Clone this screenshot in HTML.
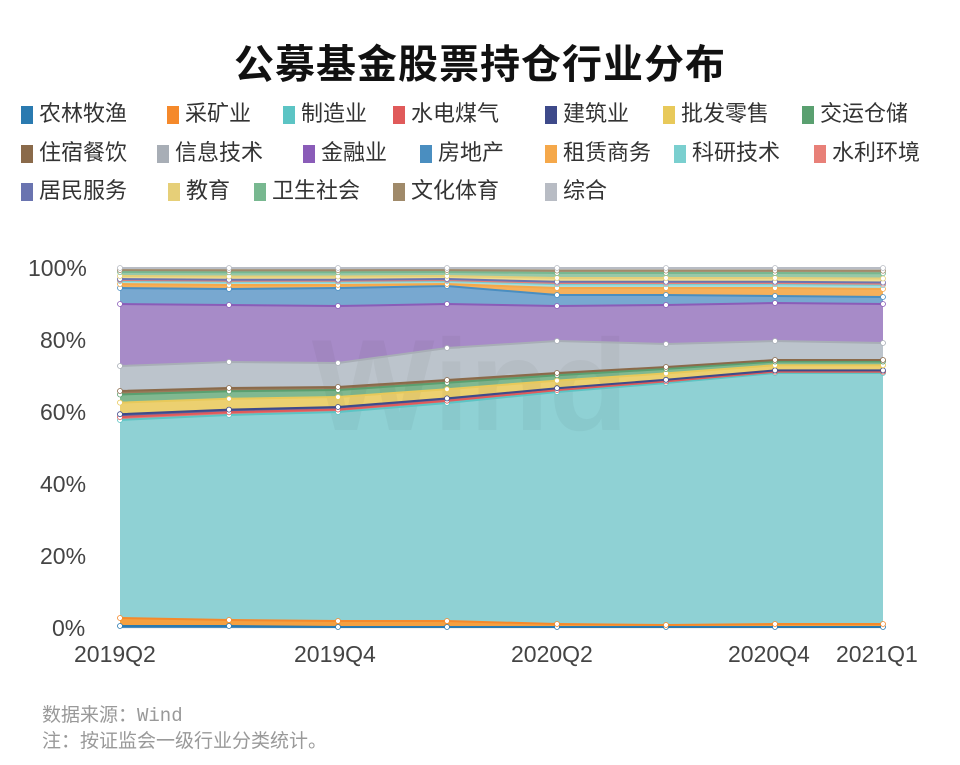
<!DOCTYPE html>
<html><head><meta charset="utf-8"><style>
body{margin:0;width:960px;height:765px;background:#fff;font-family:"Liberation Sans","Noto Sans CJK SC",sans-serif;position:relative;overflow:hidden}
.t{position:absolute;left:0;width:960px;top:32px;text-align:center;font-size:40px;font-weight:bold;color:#111;font-family:"Noto Sans CJK SC",sans-serif;letter-spacing:1px}
.lg{position:absolute;font-size:22px;color:#333;white-space:nowrap;line-height:24px;font-family:"Noto Sans CJK SC",sans-serif}
.lg i{display:inline-block;width:12px;height:18px;vertical-align:-3px;margin-right:6px}
.ax{position:absolute;font-size:23px;color:#444}
.ft{position:absolute;left:42px;font-size:19px;color:#999;font-family:"Liberation Mono","Noto Sans CJK SC",monospace}
</style></head><body>
<div class="t">公募基金股票持仓行业分布</div>
<div id="leg"></div>
<svg id="c" width="960" height="765" style="position:absolute;left:0;top:0"></svg>
<div class="ax" style="left:28px;top:255px">100%</div>
<div class="ax" style="left:40px;top:327px">80%</div>
<div class="ax" style="left:40px;top:399px">60%</div>
<div class="ax" style="left:40px;top:471px">40%</div>
<div class="ax" style="left:40px;top:543px">20%</div>
<div class="ax" style="left:52px;top:615px">0%</div>
<div class="ax" style="left:74px;top:641px">2019Q2</div>
<div class="ax" style="left:294px;top:641px">2019Q4</div>
<div class="ax" style="left:511px;top:641px">2020Q2</div>
<div class="ax" style="left:728px;top:641px">2020Q4</div>
<div class="ax" style="left:836px;top:641px">2021Q1</div>
<div class="ft" style="top:700px">数据来源：Wind</div>
<div class="ft" style="top:726px">注：按证监会一级行业分类统计。</div>
<script>
var names=["农林牧渔","采矿业","制造业","水电煤气","建筑业","批发零售","交运仓储","住宿餐饮","信息技术","金融业","房地产","租赁商务","科研技术","水利环境","居民服务","教育","卫生社会","文化体育","综合"];
var lc=["#2a7ab0","#f5892b","#5cc4c4","#e05a5a","#3e4a8a","#e8c95a","#5aa070","#8a6a4a","#a8aeb6","#8a5cb8","#4a8ec0","#f5a84a","#7acfcf","#e88078","#6a74b0","#e6cf78","#78b890","#a08a6a","#b8bcc4"];
var fc=["#4a8cc0","#f5a040","#8fd1d4","#e47a7a","#5a64a0","#ecd070","#80b890","#9a7a5a","#bcc4cc","#a78bc8","#78a8d0","#f6b05a","#a8dcdc","#eca098","#9098c4","#eedc90","#98c8a8","#b09a80","#c4c8cc"];
var pos=[[21,100],[167,100],[283,100],[393,100],[545,100],[663,100],[802,100],[21,139],[157,139],[303,139],[420,139],[545,139],[674,139],[814,139],[21,177],[168,177],[254,177],[393,177],[545,177]];
var h="";for(var i=0;i<19;i++)h+='<div class="lg" style="left:'+pos[i][0]+'px;top:'+pos[i][1]+'px"><i style="background:'+lc[i]+'"></i>'+names[i]+'</div>';
document.getElementById("leg").innerHTML=h;
var X=[120,229,338,447,557,666,775,883];
var mf=[420,415,412,403,392,383,373,373], zs=[391,388,387,380,373,367,360,360];
var B=[];
B.push([626,626,627,627,627,627,627,627]);
B.push([618,620,621,621,624,625,624,624]);
B.push(mf);
function lerp(a,b,f){return a.map(function(v,k){return v+(b[k]-v)*f});}
B.push(lerp(mf,zs,0.1));B.push(lerp(mf,zs,0.2));B.push(lerp(mf,zs,0.6));B.push(lerp(mf,zs,0.88));B.push(zs);
B.push([366,362,363,348,341,344,341,343]);
B.push([304,305,306,304,306,305,303,304]);
var re=[288,289,288,286,295,295,296,297],zl=[284,285,285,284,288,288,288,289];
B.push(re);B.push(zl);
var T=[268,268,268,268,268,268,268,268];
[0.19,0.25,0.31,0.5,0.75,0.87].forEach(function(f){B.push(lerp(zl,T,f));});
B.push(T);
var s="";
for(var g=0;g<=5;g++){var y=628-g*72;s+='<line x1="120" x2="883" y1="'+y+'" y2="'+y+'" stroke="#e4e4e4"/>';}
for(var i=0;i<19;i++){var t=B[i],b=i==0?X.map(function(){return 628}):B[i-1];var p=[];for(var k=0;k<8;k++)p.push(X[k]+","+t[k]);for(var k=7;k>=0;k--)p.push(X[k]+","+b[k]);
s+='<polygon points="'+p.join(" ")+'" fill="'+fc[i]+'"/>';}
s+='<text x="470" y="430" font-size="130" font-weight="bold" fill="#000" opacity="0.03" text-anchor="middle" font-family="Liberation Sans">Wind</text>';
for(var i=0;i<19;i++){var t=B[i],p=[];for(var k=0;k<8;k++)p.push(X[k]+","+t[k]);s+='<polyline points="'+p.join(" ")+'" fill="none" stroke="'+lc[i]+'" stroke-width="2"/>';}
for(var i=0;i<19;i++)for(var k=0;k<8;k++)s+='<circle cx="'+X[k]+'" cy="'+B[i][k]+'" r="2.5" fill="#fff" stroke="'+lc[i]+'" stroke-width="0.8"/>';
document.getElementById("c").innerHTML=s;
</script>
</body></html>
